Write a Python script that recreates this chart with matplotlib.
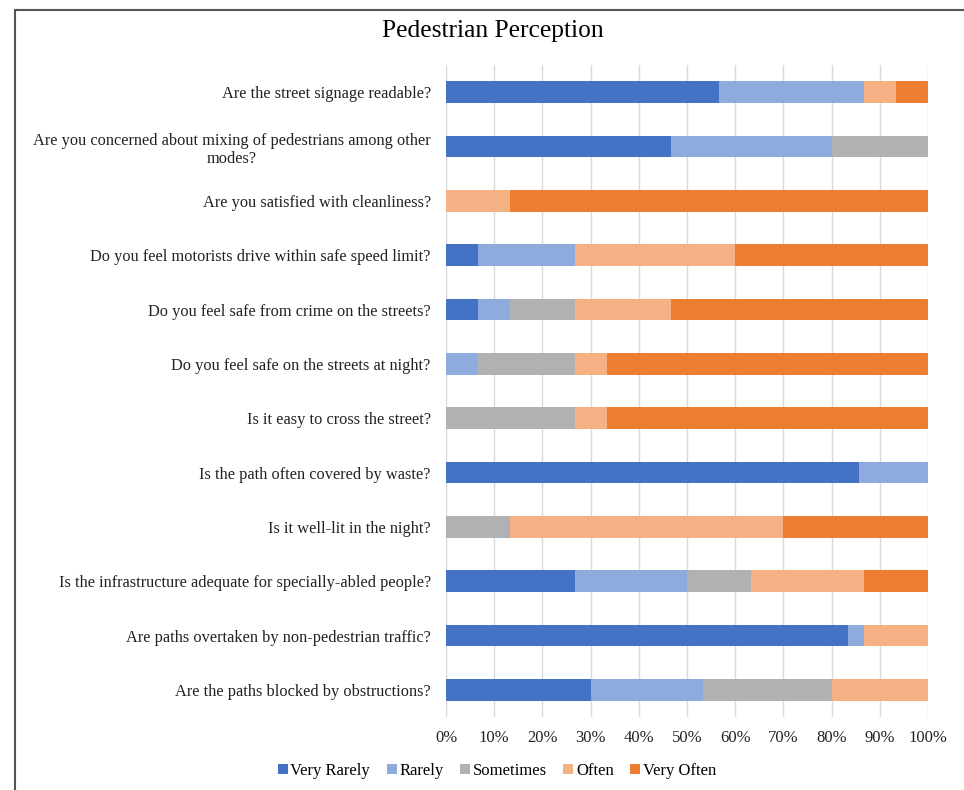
import matplotlib
matplotlib.use("Agg")
import matplotlib.pyplot as plt
from matplotlib.patches import Rectangle
from matplotlib.ticker import PercentFormatter
import numpy as np

plt.rcParams['font.family'] = ['Liberation Serif', 'DejaVu Serif']

questions = [
    "Are the street signage readable?",
    "Are you concerned about mixing of pedestrians among other\nmodes?",
    "Are you satisfied with cleanliness?",
    "Do you feel motorists drive within safe speed limit?",
    "Do you feel safe from crime on the streets?",
    "Do you feel safe on the streets at night?",
    "Is it easy to cross the street?",
    "Is the path often covered by waste?",
    "Is it well-lit in the night?",
    "Is the infrastructure adequate for specially-abled people?",
    "Are paths overtaken by non-pedestrian traffic?",
    "Are the paths blocked by obstructions?",
]
categories = ["Very Rarely", "Rarely", "Sometimes", "Often", "Very Often"]

# percentages, one list per answer category
very_rarely = [56.67, 46.67, 0, 6.67, 6.67, 0, 0, 85.71, 0, 26.67, 83.33, 30.0]
rarely      = [30.0, 33.33, 0, 20.0, 6.67, 6.67, 0, 14.29, 0, 23.33, 3.33, 23.33]
sometimes   = [0, 20.0, 0, 0, 13.33, 20.0, 26.67, 0, 13.33, 13.33, 0, 26.67]
often       = [6.67, 0, 13.33, 33.33, 20.0, 6.67, 6.67, 0, 56.67, 23.33, 13.34, 20.0]
very_often  = [6.66, 0, 86.67, 40.0, 53.33, 66.66, 66.66, 0, 30.0, 13.34, 0, 0]

colors = ["#4472C4", "#8FAADC", "#B0B1B3", "#F4B183", "#ED7D31"]
series = [very_rarely, rarely, sometimes, often, very_often]

fig = plt.figure(figsize=(9.64, 7.9), dpi=100)
ax = fig.add_axes([446/964, 1-717/790, 482/964, 652/790])

y = np.arange(len(questions))
left = np.zeros(len(questions))
for vals, col, name in zip(series, colors, categories):
    vals = np.array(vals, dtype=float)
    ax.barh(y, vals, left=left, height=0.4, color=col, label=name, zorder=3)
    left += vals

ax.set_xlim(0, 100)
ax.set_ylim(len(questions)-0.5, -0.5)
ax.set_xticks(np.arange(0, 101, 10))
ax.xaxis.set_major_formatter(PercentFormatter(decimals=0))
ax.set_yticks(y)
ax.set_yticklabels(questions, fontsize=11.8, multialignment='center', linespacing=1.2)
ax.tick_params(axis='x', labelsize=12, length=0, pad=9, colors='#222222')
ax.tick_params(axis='y', length=0, pad=11, colors='#222222')
ax.grid(axis='x', color='#D9D9D9', linewidth=1, zorder=0)
for s in ax.spines.values():
    s.set_visible(False)

fig.text(493/964, 1-31/790, "Pedestrian Perception", ha='center', va='center', fontsize=18.4)

leg = fig.legend(loc='center', bbox_to_anchor=(497/964, 1-771/790), ncol=5, frameon=False,
                 fontsize=12, handlelength=0.6, handleheight=0.6, handletextpad=0.15,
                 columnspacing=1.0)

# outer chart border (cut off at right and bottom)
fig.patches.append(Rectangle((15/964, -0.1), 1.2, 1.1 - 10/790, transform=fig.transFigure,
                             fill=False, edgecolor='#555555', linewidth=1.5))

fig.savefig("out.png", dpi=100)
